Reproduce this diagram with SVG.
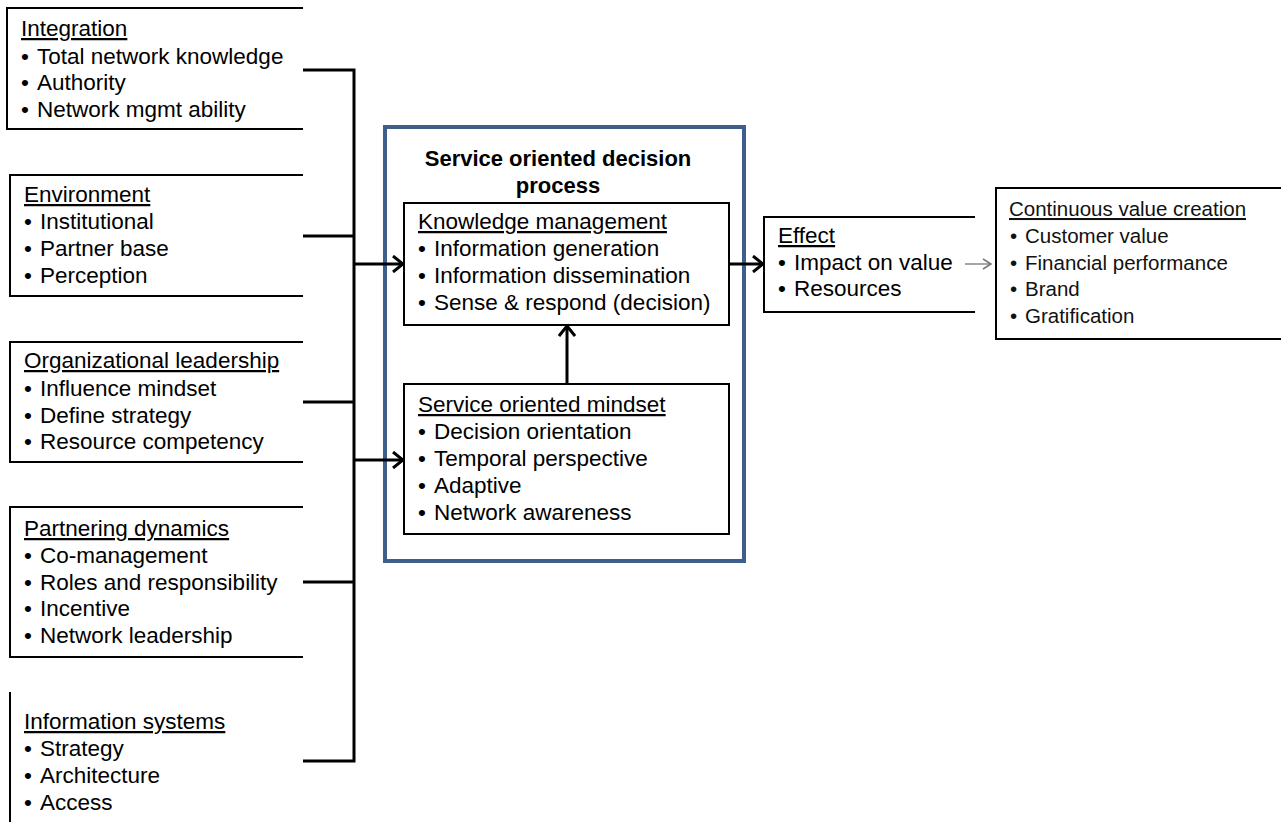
<svg xmlns="http://www.w3.org/2000/svg" width="1281" height="822" viewBox="0 0 1281 822">
  <style>
    .t { font-family: "Liberation Sans", Arial, sans-serif; font-size: 22.5px; fill: #000; }
    .s { font-family: "Liberation Sans", Arial, sans-serif; font-size: 20.5px; fill: #111; }
    .h { text-decoration: underline; }
    .ttl { font-family: "Liberation Sans", Arial, sans-serif; font-size: 22px; font-weight: bold; fill: #000; text-anchor: middle; }
    .open { fill: #fff; stroke: #000; stroke-width: 2; }
    .box { fill: #fff; stroke: #000; stroke-width: 2; }
    .frame { fill: #fff; stroke: #3E5F8D; stroke-width: 4; }
    .wire { fill: none; stroke: #000; stroke-width: 3; }
    .thin { fill: none; stroke: #888; stroke-width: 1.5; }
  </style>
  <defs>
    <marker id="head" markerUnits="userSpaceOnUse" viewBox="0 0 12 18" refX="11" refY="9" markerWidth="12" markerHeight="18" orient="auto">
      <path d="M1,1 L11,9 L1,17" fill="none" stroke="#000" stroke-width="3"/>
    </marker>
    <marker id="headGray" markerUnits="userSpaceOnUse" viewBox="0 0 10 12" refX="9" refY="6" markerWidth="10" markerHeight="12" orient="auto">
      <path d="M1,1 L9,6 L1,11" fill="none" stroke="#777" stroke-width="1.5"/>
    </marker>
  </defs>

  <rect width="1281" height="822" fill="#fff"/>

  <!-- Left-hand drivers -->
  <g id="integration">
    <path class="open" d="M303,8 H7 V129 H303"/>
    <text class="t"><tspan class="h" x="21" y="36">Integration</tspan></text>
    <text class="t"><tspan x="21" y="64">•</tspan><tspan x="37" y="64">Total network knowledge</tspan></text>
    <text class="t"><tspan x="21" y="90">•</tspan><tspan x="37" y="90">Authority</tspan></text>
    <text class="t"><tspan x="21" y="117">•</tspan><tspan x="37" y="117">Network mgmt ability</tspan></text>
  </g>

  <g id="environment">
    <path class="open" d="M303,175 H10 V296 H303"/>
    <text class="t"><tspan class="h" x="24" y="202">Environment</tspan></text>
    <text class="t"><tspan x="24" y="229">•</tspan><tspan x="40" y="229">Institutional</tspan></text>
    <text class="t"><tspan x="24" y="256">•</tspan><tspan x="40" y="256">Partner base</tspan></text>
    <text class="t"><tspan x="24" y="283">•</tspan><tspan x="40" y="283">Perception</tspan></text>
  </g>

  <g id="org-leadership">
    <path class="open" d="M303,342 H10 V462 H303"/>
    <text class="t"><tspan class="h" x="24" y="368">Organizational leadership</tspan></text>
    <text class="t"><tspan x="24" y="396">•</tspan><tspan x="40" y="396">Influence mindset</tspan></text>
    <text class="t"><tspan x="24" y="423">•</tspan><tspan x="40" y="423">Define strategy</tspan></text>
    <text class="t"><tspan x="24" y="449">•</tspan><tspan x="40" y="449">Resource competency</tspan></text>
  </g>

  <g id="partnering">
    <path class="open" d="M303,507 H10 V657 H303"/>
    <text class="t"><tspan class="h" x="24" y="536">Partnering dynamics</tspan></text>
    <text class="t"><tspan x="24" y="563">•</tspan><tspan x="40" y="563">Co-management</tspan></text>
    <text class="t"><tspan x="24" y="590">•</tspan><tspan x="40" y="590">Roles and responsibility</tspan></text>
    <text class="t"><tspan x="24" y="616">•</tspan><tspan x="40" y="616">Incentive</tspan></text>
    <text class="t"><tspan x="24" y="643">•</tspan><tspan x="40" y="643">Network leadership</tspan></text>
  </g>

  <g id="info-systems">
    <path class="open" d="M10,692 V822" fill="none"/>
    <text class="t"><tspan class="h" x="24" y="729">Information systems</tspan></text>
    <text class="t"><tspan x="24" y="756">•</tspan><tspan x="40" y="756">Strategy</tspan></text>
    <text class="t"><tspan x="24" y="783">•</tspan><tspan x="40" y="783">Architecture</tspan></text>
    <text class="t"><tspan x="24" y="810">•</tspan><tspan x="40" y="810">Access</tspan></text>
  </g>

  <!-- Central decision process -->
  <g id="decision-process">
    <rect class="frame" x="385" y="127" width="359" height="434"/>
    <text class="ttl" x="558" y="166">Service oriented decision</text>
    <text class="ttl" x="558" y="193">process</text>
  </g>

  <g id="knowledge-management">
    <rect class="box" x="404" y="203" width="325" height="122"/>
    <text class="t"><tspan class="h" x="418" y="229">Knowledge management</tspan></text>
    <text class="t"><tspan x="418" y="256">•</tspan><tspan x="434" y="256">Information generation</tspan></text>
    <text class="t"><tspan x="418" y="283">•</tspan><tspan x="434" y="283">Information dissemination</tspan></text>
    <text class="t"><tspan x="418" y="310">•</tspan><tspan x="434" y="310">Sense &amp; respond (decision)</tspan></text>
  </g>

  <g id="service-mindset">
    <rect class="box" x="404" y="384" width="325" height="150"/>
    <text class="t"><tspan class="h" x="418" y="412">Service oriented mindset</tspan></text>
    <text class="t"><tspan x="418" y="439">•</tspan><tspan x="434" y="439">Decision orientation</tspan></text>
    <text class="t"><tspan x="418" y="466">•</tspan><tspan x="434" y="466">Temporal perspective</tspan></text>
    <text class="t"><tspan x="418" y="493">•</tspan><tspan x="434" y="493">Adaptive</tspan></text>
    <text class="t"><tspan x="418" y="520">•</tspan><tspan x="434" y="520">Network awareness</tspan></text>
  </g>

  <!-- Outcomes -->
  <g id="effect">
    <path class="open" d="M975,217 H764 V312 H975"/>
    <text class="t"><tspan class="h" x="778" y="243">Effect</tspan></text>
    <text class="t"><tspan x="778" y="270">•</tspan><tspan x="794" y="270">Impact on value</tspan></text>
    <text class="t"><tspan x="778" y="296">•</tspan><tspan x="794" y="296">Resources</tspan></text>
  </g>

  <g id="value-creation">
    <path class="open" d="M1281,188 H996 V339 H1281"/>
    <text class="s"><tspan class="h" x="1009" y="216">Continuous value creation</tspan></text>
    <text class="s"><tspan x="1010" y="243">•</tspan><tspan x="1025" y="243">Customer value</tspan></text>
    <text class="s"><tspan x="1010" y="270">•</tspan><tspan x="1025" y="270">Financial performance</tspan></text>
    <text class="s"><tspan x="1010" y="296">•</tspan><tspan x="1025" y="296">Brand</tspan></text>
    <text class="s"><tspan x="1010" y="323">•</tspan><tspan x="1025" y="323">Gratification</tspan></text>
  </g>

  <!-- Connectors -->
  <g id="connectors">
    <path class="wire" d="M303,70 H354 M303,236 H354 M303,402 H354 M303,582 H354 M303,761 H354 M354,68.5 V762.5"/>
    <path class="wire" d="M354,264 H403" marker-end="url(#head)"/>
    <path class="wire" d="M354,460 H403" marker-end="url(#head)"/>
    <path class="wire" d="M567,384 V326" marker-end="url(#head)"/>
    <path class="wire" d="M729,264 H763" marker-end="url(#head)"/>
    <path class="thin" d="M965,264 H991" marker-end="url(#headGray)"/>
  </g>
</svg>
